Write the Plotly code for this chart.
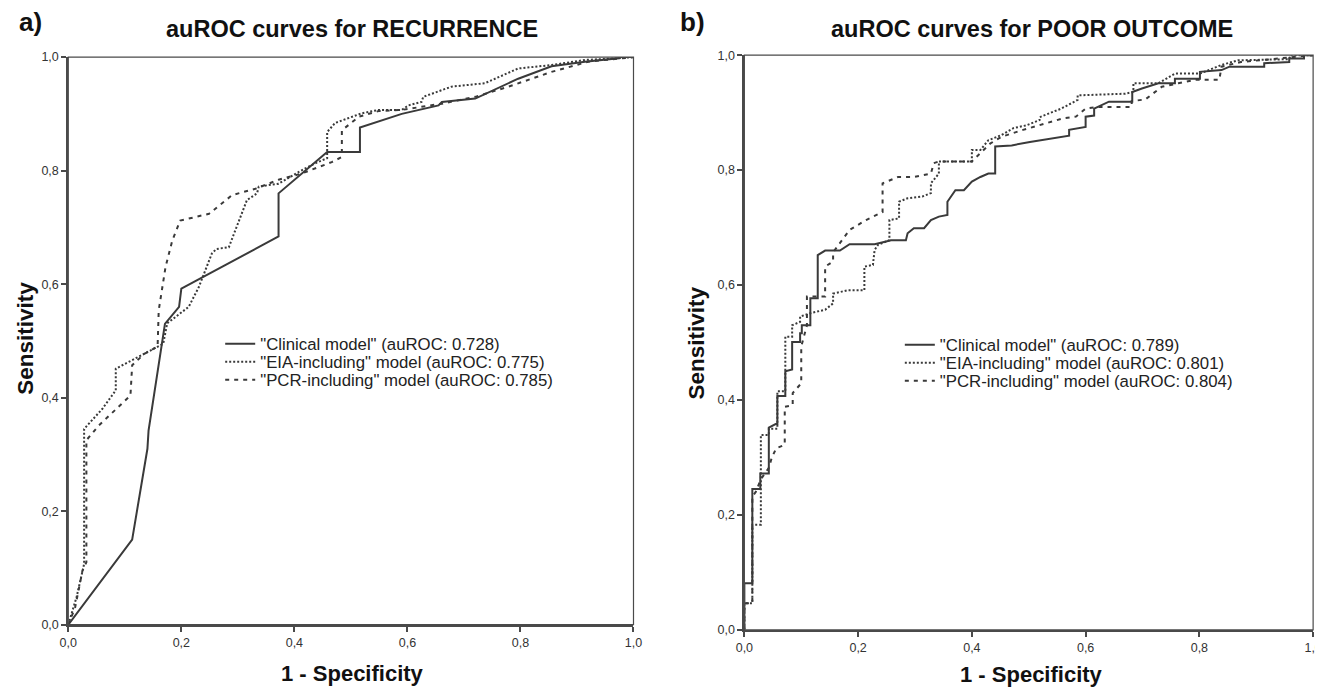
import plotly.graph_objects as go

# ---------------- DATA ----------------
tick_vals = [0.0, 0.2, 0.4, 0.6, 0.8, 1.0]

legend_rec = ['"Clinical model" (auROC: 0.728)',
              '"EIA-including" model (auROC: 0.775)',
              '"PCR-including" model (auROC: 0.785)']
legend_po = ['"Clinical model" (auROC: 0.789)',
             '"EIA-including" model (auROC: 0.801)',
             '"PCR-including" model (auROC: 0.804)']

# Panel a: RECURRENCE
rec_clin_x = [0.0, 0.113, 0.140, 0.142, 0.171, 0.196, 0.200, 0.372, 0.372, 0.458, 0.516, 0.516,
              0.590, 0.655, 0.661, 0.720, 0.796, 0.855, 0.914, 0.973, 0.973, 1.0]
rec_clin_y = [0.0, 0.150, 0.310, 0.342, 0.530, 0.560, 0.592, 0.684, 0.760, 0.833, 0.833, 0.876,
              0.900, 0.915, 0.921, 0.927, 0.962, 0.984, 0.992, 0.998, 1.0, 1.0]

rec_eia_x = [0.0, 0.015, 0.028, 0.028, 0.060, 0.084, 0.084, 0.119, 0.140, 0.168, 0.175, 0.213,
             0.231, 0.254, 0.262, 0.284, 0.316, 0.334, 0.337, 0.372, 0.408, 0.437, 0.458, 0.458,
             0.472, 0.519, 0.549, 0.590, 0.602, 0.625, 0.628, 0.678, 0.737, 0.796, 0.855, 0.914,
             0.973, 1.0]
rec_eia_y = [0.0, 0.050, 0.107, 0.345, 0.380, 0.413, 0.451, 0.469, 0.480, 0.495, 0.531, 0.560,
             0.595, 0.654, 0.662, 0.665, 0.748, 0.760, 0.772, 0.777, 0.798, 0.813, 0.822, 0.868,
             0.884, 0.901, 0.907, 0.907, 0.915, 0.921, 0.930, 0.948, 0.954, 0.980, 0.986, 0.995,
             0.998, 1.0]

rec_pcr_x = [0.0, 0.012, 0.025, 0.032, 0.032, 0.054, 0.090, 0.110, 0.113, 0.134, 0.158, 0.160,
             0.172, 0.184, 0.198, 0.249, 0.290, 0.331, 0.372, 0.413, 0.466, 0.484, 0.484, 0.514,
             0.549, 0.590, 0.661, 0.720, 0.779, 0.855, 0.920, 0.973, 0.990, 1.0]
rec_pcr_y = [0.0, 0.030, 0.095, 0.110, 0.325, 0.351, 0.385, 0.404, 0.457, 0.477, 0.490, 0.554,
             0.630, 0.677, 0.712, 0.724, 0.757, 0.768, 0.784, 0.795, 0.815, 0.824, 0.871, 0.895,
             0.905, 0.907, 0.918, 0.930, 0.948, 0.974, 0.992, 0.997, 0.998, 1.0]

# Panel b: POOR OUTCOME
po_clin_x = [0.0, 0.0, 0.014, 0.014, 0.028, 0.028, 0.043, 0.043, 0.055, 0.058, 0.058, 0.072,
             0.072, 0.084, 0.084, 0.098, 0.098, 0.101, 0.101, 0.116, 0.116, 0.129, 0.129, 0.142,
             0.168, 0.185, 0.229, 0.258, 0.284, 0.287, 0.298, 0.316, 0.328, 0.342, 0.357, 0.357,
             0.371, 0.386, 0.400, 0.415, 0.429, 0.441, 0.441, 0.470, 0.502, 0.537, 0.571, 0.571,
             0.600, 0.600, 0.615, 0.615, 0.641, 0.682, 0.682, 0.699, 0.728, 0.757, 0.757, 0.801,
             0.801, 0.839, 0.853, 0.914, 0.914, 0.958, 0.958, 0.984, 0.984, 1.0]
po_clin_y = [0.0, 0.081, 0.081, 0.245, 0.245, 0.272, 0.272, 0.352, 0.358, 0.358, 0.407, 0.407,
             0.450, 0.453, 0.501, 0.501, 0.516, 0.516, 0.530, 0.530, 0.577, 0.577, 0.652, 0.660,
             0.660, 0.671, 0.671, 0.678, 0.678, 0.690, 0.699, 0.699, 0.713, 0.719, 0.722, 0.745,
             0.765, 0.765, 0.780, 0.788, 0.794, 0.794, 0.841, 0.843, 0.849, 0.855, 0.860, 0.870,
             0.875, 0.893, 0.895, 0.907, 0.919, 0.919, 0.936, 0.942, 0.951, 0.951, 0.959, 0.959,
             0.971, 0.974, 0.980, 0.980, 0.986, 0.988, 0.994, 0.994, 1.0, 1.0]

po_eia_x = [0.0, 0.0, 0.014, 0.014, 0.029, 0.029, 0.043, 0.043, 0.058, 0.058, 0.072, 0.072,
            0.084, 0.084, 0.098, 0.098, 0.116, 0.142, 0.156, 0.156, 0.182, 0.211, 0.211, 0.226,
            0.229, 0.235, 0.255, 0.255, 0.272, 0.272, 0.287, 0.313, 0.328, 0.328, 0.342, 0.342,
            0.400, 0.400, 0.415, 0.429, 0.452, 0.473, 0.496, 0.519, 0.519, 0.557, 0.586, 0.586,
            0.670, 0.684, 0.684, 0.728, 0.757, 0.801, 0.839, 0.868, 0.958, 0.960, 1.0]
po_eia_y = [0.0, 0.046, 0.046, 0.183, 0.183, 0.339, 0.339, 0.350, 0.350, 0.415, 0.415, 0.510,
            0.510, 0.530, 0.536, 0.545, 0.551, 0.557, 0.568, 0.585, 0.591, 0.591, 0.632, 0.635,
            0.661, 0.670, 0.678, 0.713, 0.716, 0.745, 0.751, 0.754, 0.760, 0.777, 0.794, 0.815,
            0.815, 0.835, 0.835, 0.852, 0.861, 0.873, 0.878, 0.887, 0.892, 0.907, 0.922, 0.930,
            0.933, 0.936, 0.951, 0.951, 0.968, 0.968, 0.983, 0.991, 0.993, 1.0, 1.0]

po_pcr_x = [0.0, 0.0, 0.014, 0.014, 0.020, 0.029, 0.043, 0.048, 0.056, 0.071, 0.071, 0.085,
            0.085, 0.100, 0.100, 0.110, 0.110, 0.142, 0.142, 0.156, 0.156, 0.171, 0.185, 0.214,
            0.243, 0.243, 0.270, 0.298, 0.328, 0.333, 0.342, 0.400, 0.415, 0.432, 0.452, 0.490,
            0.560, 0.583, 0.600, 0.624, 0.681, 0.681, 0.705, 0.734, 0.763, 0.792, 0.835, 0.839,
            0.873, 0.950, 0.990, 1.0]
po_pcr_y = [0.0, 0.046, 0.046, 0.232, 0.240, 0.262, 0.282, 0.299, 0.316, 0.322, 0.388, 0.391,
            0.412, 0.429, 0.493, 0.530, 0.580, 0.580, 0.632, 0.641, 0.657, 0.678, 0.696, 0.713,
            0.727, 0.777, 0.788, 0.788, 0.794, 0.812, 0.815, 0.815, 0.830, 0.846, 0.858, 0.870,
            0.890, 0.893, 0.907, 0.910, 0.910, 0.920, 0.923, 0.945, 0.951, 0.957, 0.957, 0.980,
            0.988, 0.995, 0.998, 1.0]

# ---------------- STYLE ----------------
W, H = 1323, 687
LINE = "#3a3a3a"
AX = "#4a4a4a"
FONT = "Arial, Liberation Sans, sans-serif"
styles = [dict(color=LINE, width=2, dash="solid"),
          dict(color=LINE, width=2, dash="2px,2px"),
          dict(color=LINE, width=2, dash="4px,5px")]

def px_x(p):
    return p / W

def px_y(p):
    return 1 - p / H

fig = go.Figure()

# one single-item legend per curve so rows can sit as close as in the original
legend_rows = {
    "legend": (206, 335.7), "legend2": (206, 354.1), "legend3": (206, 372.5),
    "legend4": (895, 336.7), "legend5": (895, 355.1), "legend6": (895, 373.5),
}
panels = [
    ("x", "y", ["legend", "legend2", "legend3"],
     [(rec_clin_x, rec_clin_y), (rec_eia_x, rec_eia_y), (rec_pcr_x, rec_pcr_y)], legend_rec),
    ("x2", "y2", ["legend4", "legend5", "legend6"],
     [(po_clin_x, po_clin_y), (po_eia_x, po_eia_y), (po_pcr_x, po_pcr_y)], legend_po),
]
for xa, ya, lgs, curves, names in panels:
    for (cx, cy), nm, st, lg in zip(curves, names, styles, lgs):
        fig.add_trace(go.Scatter(x=cx, y=cy, mode="lines", name=nm, line=st,
                                 xaxis=xa, yaxis=ya, legend=lg, showlegend=True,
                                 hoverinfo="skip"))

axis_common = dict(range=[0, 1], tickvals=tick_vals, tickformat=".1f", showgrid=False,
                   zeroline=False, showline=True, linecolor=AX, linewidth=2,
                   ticks="outside", ticklen=5, tickwidth=1.5, tickcolor=AX,
                   tickfont=dict(family=FONT, size=12.5, color="#333333"))

layout_legends = {}
for name, (lx, ly) in legend_rows.items():
    layout_legends[name] = dict(x=px_x(lx), y=px_y(ly), xanchor="left", yanchor="middle",
                                bgcolor="rgba(0,0,0,0)", borderwidth=0,
                                font=dict(family=FONT, size=16.8, color="#222222"),
                                itemwidth=30)

fig.update_layout(
    width=W, height=H, autosize=False,
    margin=dict(l=0, r=0, t=0, b=0),
    paper_bgcolor="white", plot_bgcolor="white",
    separators=",.",
    xaxis=dict(domain=[px_x(52), px_x(625)], anchor="y", **axis_common),
    yaxis=dict(domain=[px_y(622.4), px_y(43)], anchor="x", **axis_common),
    xaxis2=dict(domain=[px_x(737.4), px_x(1314)], anchor="y2", **axis_common),
    yaxis2=dict(domain=[px_y(627.6), px_y(41)], anchor="x2", **axis_common),
    **layout_legends,
)

# thin box border on the top/right sides
for xr, yr in [("x domain", "y domain"), ("x2 domain", "y2 domain")]:
    fig.add_shape(type="rect", xref=xr, yref=yr, x0=0, x1=1, y0=0, y1=1,
                  line=dict(color=AX, width=1.2), fillcolor="rgba(0,0,0,0)", layer="above")

ann = [
    dict(text="<b>a)</b>", x=px_x(0), y=px_y(7), xanchor="left", size=26),
    dict(text="<b>b)</b>", x=px_x(670), y=px_y(7), xanchor="left", size=26),
    dict(text="<b>auROC curves for RECURRENCE</b>", x=px_x(339.5), y=px_y(14), xanchor="center", size=23.5),
    dict(text="<b>auROC curves for POOR OUTCOME</b>", x=px_x(1029), y=px_y(14), xanchor="center", size=23.5),
    dict(text="<b>1 - Specificity</b>", x=px_x(340), y=px_y(672), xanchor="center", size=22),
    dict(text="<b>1 - Specificity</b>", x=px_x(1028), y=px_y(673.5), xanchor="center", size=22),
]
for a in ann:
    fig.add_annotation(text=a["text"], x=a["x"], y=a["y"], xref="paper", yref="paper",
                       xanchor=a["xanchor"], yanchor="middle", showarrow=False,
                       font=dict(family=FONT, size=a["size"], color="#111111"))
for xc, yc in [(9, 329.6), (689, 334.7)]:
    fig.add_annotation(text="<b>Sensitivity</b>", x=px_x(xc), y=px_y(yc), xref="paper", yref="paper",
                       xanchor="center", yanchor="middle", showarrow=False, textangle=-90,
                       font=dict(family=FONT, size=22.5, color="#111111"))

fig.write_html("out.html")
